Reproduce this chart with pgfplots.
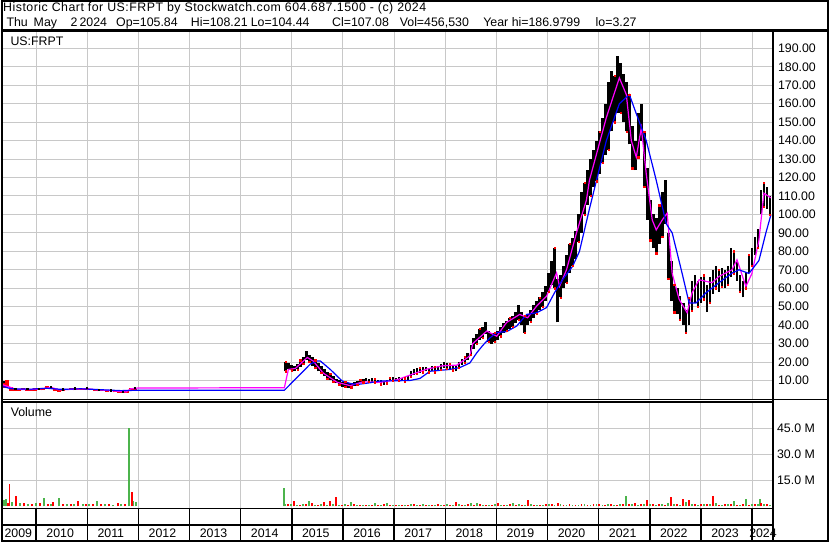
\documentclass[border=0pt]{standalone}
\usepackage{pgfplots}
\pgfplotsset{compat=1.18}
\usepackage{pgfplotstable}
\usepackage{fontspec}
\setmainfont{Liberation Sans}
\definecolor{gridc}{RGB}{200,200,200}
\definecolor{volg}{RGB}{76,180,76}
\definecolor{volr}{RGB}{255,0,0}
\definecolor{maga}{RGB}{255,0,255}
\definecolor{mablue}{RGB}{0,0,255}
\newcommand\hdr{\fontsize{9.3pt}{11pt}\selectfont}

\pgfplotstableread{
x lo hi
2009.357 6.0 9.5
2009.435 6.5 10.0
2009.513 4.5 6.5
2009.591 4.3 5.5
2009.669 4.4 5.4
2009.747 4.6 5.8
2009.825 4.5 5.5
2009.903 4.4 5.6
2009.981 4.5 5.8
2010.058 4.6 5.6
2010.136 4.7 6.0
2010.214 5.5 7.0
2010.292 5.2 6.5
2010.370 4.2 5.3
2010.448 4.0 5.0
2010.526 4.3 5.2
2010.604 4.6 5.6
2010.682 4.8 6.0
2010.760 4.7 5.8
2010.838 4.9 6.0
2010.916 5.0 6.2
2010.994 4.9 6.0
2011.072 4.6 5.6
2011.150 4.2 5.0
2011.228 4.1 4.8
2011.306 4.2 4.9
2011.384 4.0 4.8
2011.462 4.1 4.7
2011.540 3.6 4.4
2011.618 3.3 4.1
2011.696 3.2 4.0
2011.774 3.3 4.2
2011.852 4.6 6.0
2011.930 5.0 6.2
}\earlytab

\pgfplotstableread{
x lo hi
2014.874 15 20
2014.932 16 19.5
2014.991 15.5 18.5
2015.049 15 18
2015.108 16 19
2015.166 17.5 21
2015.225 19 23
2015.283 21 26
2015.342 20 24
2015.400 18 22.5
2015.459 17 21
2015.517 15 19.5
2015.576 14 18
2015.634 12.5 16
2015.693 11 14.5
2015.751 10.5 13.5
2015.810 9.5 12.5
2015.868 8.5 11
2015.927 7.5 10
2015.985 6.5 9
2016.044 6.8 9.2
2016.102 6.1 8.5
2016.161 6.3 8.4
2016.219 7 9
2016.278 7.5 9.5
2016.336 8.5 10.5
2016.395 9 11
2016.453 9.5 11.2
2016.511 9.3 11
2016.570 9.4 11.3
2016.628 9 10.8
2016.687 8.5 10.3
2016.745 8 10
2016.804 7.8 9.8
2016.862 8.5 10.5
2016.921 9.5 11.5
2016.979 9.7 11.8
2017.038 9.5 11.5
2017.096 9.8 12
2017.155 9.5 11.5
2017.213 9.3 11.2
2017.272 10.5 12.5
2017.330 12 15
2017.389 13 16
2017.447 13.5 16.5
2017.506 14 17
2017.564 14.5 17.2
2017.623 15 17.5
2017.681 14.5 17
2017.740 15 18
2017.798 14.5 17.5
2017.857 15 18
2017.915 16 19
2017.973 17 20
2018.032 16.5 19.5
2018.090 16 19
2018.149 15.5 18.5
2018.207 15 18
2018.266 17 20
2018.324 18.5 21.5
2018.383 19.5 23
2018.441 21 25
2018.500 24 29
2018.558 27 33
2018.617 30 35
2018.675 32 38
2018.734 33 39
2018.792 35 41.5
2018.851 31 37
2018.909 30 35.5
2018.968 31 36
2019.026 32 37
2019.085 34 39
2019.143 36 41
2019.202 37 42.5
2019.260 38 44
2019.319 39 45
2019.377 41 47
2019.435 43 51
2019.494 40 47
2019.552 36 45
2019.611 40 46
2019.669 42 48
2019.728 44 51
2019.786 46 53
2019.845 48 55
2019.903 50 58
2019.962 53 61
2020.020 58 68
2020.079 62 75
2020.137 60 82
2020.196 41.5 65
2020.254 55 67
2020.313 60 72
2020.371 63 78
2020.430 68 84
2020.488 72 87
2020.547 76 91
2020.605 85 100
2020.664 90 112
2020.722 100 117
2020.781 105 124
2020.839 110 130
2020.897 115 135
2020.956 118 140
2021.014 122 145
2021.073 128 152
2021.131 132 160
2021.190 135 172
2021.248 145 178
2021.307 150 175
2021.365 155 186
2021.424 155 182
2021.482 150 176
2021.541 145 172
2021.599 138 165
2021.658 125 148
2021.716 124 140
2021.775 131 155
2021.833 140 160
2021.892 115 145
2021.950 97 125
2022.009 86 108
2022.067 82 100
2022.126 79 98
2022.184 84 105
2022.243 88 112
2022.301 95 118.5
2022.359 65 90
2022.418 53 75
2022.476 47 62
2022.535 46 60
2022.593 43 56
2022.652 40 52
2022.710 36 48
2022.769 40 55
2022.827 48 64
2022.886 52 67
2022.944 50 64
2023.003 52 66
2023.061 54 67
2023.120 47 62
2023.178 52 66
2023.237 57 70
2023.295 60 72
2023.354 58 70
2023.412 61 71
2023.471 60 70
2023.529 62 72
2023.588 66 82
2023.646 68 80
2023.705 64 74
2023.763 58 67
2023.821 55 64
2023.880 60 69
2023.938 68 78
2023.997 72 82
2024.055 78 88
2024.114 82 92
2024.172 100 113
2024.231 104 117
2024.289 103 115
2024.348 100 110
}\latetab

\pgfplotstableread{
x y
2009.318 8
2009.474 6.5
2009.610 5.2
2009.903 5.1
2010.195 5.8
2010.293 6.2
2010.449 5.0
2010.682 5.2
2010.975 5.6
2011.170 5.0
2011.462 4.5
2011.755 3.8
2011.852 5.5
2011.989 5.9
2014.854 6.1
2014.932 16
2015.068 16.5
2015.302 22.5
2015.419 20.5
2015.614 14
2015.887 9
2016.141 7.2
2016.394 9.3
2016.725 9.0
2017.057 10.4
2017.369 13.5
2017.642 16.2
2017.954 18
2018.226 18.3
2018.480 23.3
2018.538 30
2018.811 36.8
2019.006 34
2019.201 41.5
2019.454 45.8
2019.610 44
2019.786 50.3
2019.981 55.7
2020.176 68.3
2020.234 61
2020.371 70
2020.566 90
2020.760 107.8
2020.819 118.5
2021.150 152.5
2021.404 174
2021.540 165
2021.638 140
2021.735 131
2021.833 147
2021.930 122
2022.047 97
2022.125 91.6
2022.242 97
2022.339 100.7
2022.437 68
2022.573 54
2022.729 46.7
2022.827 57.6
2022.963 64.6
2023.217 63
2023.353 66.4
2023.607 70
2023.704 75.4
2023.879 61
2023.996 68
2024.133 86
2024.231 111.5
2024.367 109
}\magtab

\pgfplotstableread{
x y
2009.318 7
2009.513 5.5
2009.903 5.3
2010.195 5.8
2010.488 5.2
2010.877 5.5
2011.267 5.0
2011.657 4.5
2011.989 4.7
2014.854 4.7
2015.361 18.9
2015.497 20.6
2015.556 20.6
2015.751 16
2015.985 9.7
2016.141 8.4
2016.277 7.8
2016.531 8.8
2016.725 9.7
2017.310 10
2017.505 11.1
2017.700 15
2018.090 16
2018.285 17
2018.480 19.5
2018.616 25
2018.733 29
2018.870 33
2019.006 36
2019.201 36.5
2019.396 39.5
2019.591 45.8
2019.786 46.7
2019.981 49.5
2020.137 57.6
2020.293 64.6
2020.488 71.8
2020.624 80
2020.819 103
2021.150 140
2021.404 160
2021.599 165
2021.735 154.6
2021.930 140
2022.125 118.5
2022.320 95
2022.437 90
2022.632 68
2022.768 52
2022.905 52
2023.100 57.6
2023.353 63
2023.607 68.2
2023.743 70
2023.938 68
2024.133 75
2024.269 90
2024.367 99.7
}\bluetab

\pgfplotsset{
  panel/.style={
    scale only axis, anchor=north west,
    width=579.75pt,
    xmin=2009.318, xmax=2024.387,
    axis line style={draw=none}, tick style={draw=none}, major tick length=0pt,
    grid=major, grid style={gridc, line width=0.75pt},
    xtick={2010,2011,2012,2013,2014,2015,2016,2017,2018,2019,2020,2021,2022,2023,2024},
    xticklabels={},
    yticklabel pos=right,
    /pgf/number format/assume math mode=true,
    tick label style={font=\hdr},
  }
}

\begin{document}
\begin{tikzpicture}
\begin{scope}[x=0.75pt,y=-0.75pt]
\useasboundingbox (0,0) rectangle (830,543);
\fill[white] (0,0) rectangle (830,543);
\end{scope}

% price panel
\begin{axis}[panel, at={(0pt,-24pt)}, height=276pt,
  ymin=-0.05, ymax=198.8,
  ytick={10,20,30,40,50,60,70,80,90,100,110,120,130,140,150,160,170,180,190},
  yticklabels={10.00,20.00,30.00,40.00,50.00,60.00,70.00,80.00,90.00,100.00,110.00,120.00,130.00,140.00,150.00,160.00,170.00,180.00,190.00},
  yticklabel style={anchor=west, inner sep=0pt, xshift=4.4pt},
]
\addplot[mark=none, draw=none, forget plot,
  error bars/.cd, y dir=plus, y explicit, error mark=none,
  error bar style={draw=red, line width=3pt, solid}]
  table[x=x, y=lo, y error expr={\thisrow{hi}-\thisrow{lo}}] {\earlytab};
\addplot[mark=none, draw=none, forget plot,
  error bars/.cd, y dir=plus, y explicit, error mark=none,
  error bar style={draw=black, line width=2.0pt, solid}]
  table[x=x, y=lo, y error expr={\thisrow{hi}-\thisrow{lo}}] {\latetab};
\addplot[only marks, mark=square*, mark size=0.45pt, color=red, each nth point=2, filter discard warning=false]
  table[x=x, y=lo] {\latetab};
\addplot[only marks, mark=square*, mark size=0.45pt, color=red, each nth point=5, filter discard warning=false]
  table[x=x, y=hi] {\latetab};
\addplot[only marks, mark=square*, mark size=0.45pt, color=black, each nth point=3, filter discard warning=false]
  table[x=x, y=hi] {\earlytab};
\addplot[maga, line width=0.9pt, mark=none] table[x=x, y=y] {\magtab};
\addplot[mablue, line width=0.9pt, mark=none] table[x=x, y=y] {\bluetab};
\end{axis}

% volume panel
\begin{axis}[panel, at={(0pt,-302.25pt)}, height=79.5pt,
  ymin=-0.8, ymax=60,
  ytick={15,30,45},
  yticklabels={15.0 M,30.0 M,45.0 M},
  yticklabel style={anchor=west, inner sep=0pt, xshift=3.7pt},
]
\addplot[ycomb, draw=volg, line width=1.4pt, mark=none] coordinates {
(2009.376,3.8) (2009.415,4.0) (2009.532,2.5) (2009.688,2.0) (2009.844,1.6) (2010.000,1.8)
(2010.156,4.5) (2010.293,1.5) (2010.449,4.5) (2010.605,1.2) (2010.741,1.6) (2010.916,1.4)
(2011.033,1.2) (2011.189,3.2) (2011.345,1.3) (2011.501,1.0) (2011.657,1.3) (2011.819,45)
(2011.905,3.3) (2011.950,2.3)
(2014.841,10.4)
(2014.874,1.5) (2014.991,1.2) (2015.108,0.9) (2015.225,1.3) (2015.342,2.9) (2015.459,1.0)
(2015.576,1.4) (2015.693,0.8) (2015.810,1.1) (2015.927,0.9) (2016.044,1.2) (2016.161,2.2)
(2016.278,0.8) (2016.395,1.0) (2016.511,0.7) (2016.628,1.8) (2016.745,0.9) (2016.862,1.8)
(2016.979,0.8) (2017.096,1.0) (2017.213,0.7) (2017.330,1.1) (2017.447,0.9) (2017.564,1.2)
(2017.681,0.8) (2017.798,1.0) (2017.915,0.7) (2018.032,1.1) (2018.149,0.9) (2018.266,1.3)
(2018.383,1.0) (2018.500,1.8) (2018.617,1.8) (2018.734,1.0) (2018.851,0.8) (2018.968,1.2)
(2019.085,0.9) (2019.202,1.0) (2019.319,1.8) (2019.435,1.1) (2019.552,0.9) (2019.669,1.2)
(2019.786,1.0) (2019.903,0.8) (2020.020,1.1) (2020.137,0.9) (2020.254,1.3) (2020.371,0.8)
(2020.488,1.0) (2020.605,0.9) (2020.722,1.1) (2020.839,0.8) (2020.956,1.2) (2021.073,1.0)
(2021.190,1.4) (2021.307,1.0) (2021.424,1.3) (2021.541,5.7) (2021.658,1.2) (2021.775,0.9)
(2021.892,1.1) (2022.009,1.3) (2022.126,1.0) (2022.243,1.2) (2022.359,1.8) (2022.476,1.1)
(2022.593,1.0) (2022.710,2.2) (2022.827,1.2) (2022.944,1.0) (2023.061,1.3) (2023.178,1.1)
(2023.295,1.9) (2023.412,1.0) (2023.529,1.2) (2023.646,2.9) (2023.763,1.0) (2023.880,4.2)
(2023.997,1.1) (2024.114,1.3) (2024.153,4.2) (2024.231,1.2) (2024.348,1.0)
};
\addplot[ycomb, draw=volr, line width=1.4pt, mark=none] coordinates {
(2009.454,2.0) (2009.480,13) (2009.610,6.0) (2009.766,1.8) (2009.922,1.5) (2010.078,1.7)
(2010.234,1.3) (2010.332,2.7) (2010.527,1.4) (2010.682,1.2) (2010.819,3.0) (2010.975,1.3)
(2011.111,1.5) (2011.267,1.2) (2011.423,1.4) (2011.599,2.0) (2011.735,1.1) (2011.866,8.5)
(2014.932,1.3) (2015.049,3.2) (2015.166,1.0) (2015.283,1.2) (2015.400,1.8) (2015.517,1.0)
(2015.634,2.2) (2015.751,3.2) (2015.868,5.1) (2015.985,1.0) (2016.102,0.9) (2016.219,1.1)
(2016.336,0.8) (2016.453,1.0) (2016.570,0.7) (2016.687,0.9) (2016.804,1.1) (2016.921,0.8)
(2017.038,1.0) (2017.155,0.9) (2017.272,0.7) (2017.389,1.2) (2017.506,0.8) (2017.623,1.0)
(2017.740,0.9) (2017.857,1.1) (2017.973,0.8) (2018.090,1.0) (2018.207,2.3) (2018.324,0.9)
(2018.441,1.1) (2018.558,1.0) (2018.675,1.2) (2018.792,0.9) (2018.909,1.0) (2019.026,1.8)
(2019.143,0.8) (2019.260,1.1) (2019.377,0.9) (2019.494,1.0) (2019.611,3.4) (2019.728,1.0)
(2019.845,0.9) (2019.962,1.1) (2020.079,1.2) (2020.196,1.9) (2020.313,1.0) (2020.430,1.3)
(2020.547,0.9) (2020.664,1.1) (2020.781,1.0) (2020.897,1.5) (2021.014,1.2) (2021.131,0.9)
(2021.248,1.1) (2021.365,1.0) (2021.482,1.2) (2021.599,1.3) (2021.716,1.9) (2021.833,1.1)
(2021.950,3.6) (2022.067,1.2) (2022.184,1.4) (2022.301,1.0) (2022.418,5.1) (2022.535,1.2)
(2022.652,4.2) (2022.769,3.8) (2022.886,1.1) (2023.003,1.4) (2023.120,1.2) (2023.237,5.7)
(2023.354,1.0) (2023.471,1.3) (2023.588,1.1) (2023.705,1.0) (2023.821,1.2) (2023.938,1.0)
(2024.055,1.1) (2024.172,1.8) (2024.289,1.2)
};
\end{axis}

\begin{scope}[x=0.75pt,y=-0.75pt]
% frame lines
\draw[black, line width=1.5pt] (0.75,0.75) rectangle (829.25,542.25);
\draw[black, line width=1.9pt] (0,30.5) -- (830,30.5);
\draw[black, line width=1.5pt] (774.3,30.5) -- (774.3,543);
\draw[black, line width=0.9pt] (0,400.6) -- (830,400.6);
\draw[black, line width=0.9pt] (0,403.0) -- (774.3,403.0);
\draw[black, line width=1.5pt] (0,509.8) -- (774.3,509.8);
\draw[black, line width=1.5pt] (0,526.6) -- (774.3,526.6);
\foreach \xx in {35,86.3,137.6,188.9,240.2,291.5,342.8,394.1,445.4,496.7,548,599.3,650.6,701.9,753.2}
  \draw[black, line width=1.1pt] (\xx,509.8) -- (\xx,542.5);
% header text, line 1
\node[anchor=base west, inner sep=0pt, font=\hdr] at (1.7,11.3) {\addfontfeature{LetterSpace=4.0}Historic Chart for US:FRPT by Stockwatch.com 604.687.1500 - (c) 2024};
% header text, line 2
\node[anchor=base west, inner sep=0pt, font=\hdr] at (5,26.7) {Thu};
\node[anchor=base west, inner sep=0pt, font=\hdr] at (32.3,26.7) {May};
\node[anchor=base west, inner sep=0pt, font=\hdr] at (69.3,26.7) {2};
\node[anchor=base west, inner sep=0pt, font=\hdr] at (78.3,26.7) {2024};
\node[anchor=base west, inner sep=0pt, font=\hdr] at (115,26.7) {Op=105.84};
\node[anchor=base west, inner sep=0pt, font=\hdr] at (190,26.7) {Hi=108.21};
\node[anchor=base west, inner sep=0pt, font=\hdr] at (250,26.7) {Lo=104.44};
\node[anchor=base west, inner sep=0pt, font=\hdr] at (331.7,26.7) {Cl=107.08};
\node[anchor=base west, inner sep=0pt, font=\hdr] at (399.5,26.7) {Vol=456,530};
\node[anchor=base west, inner sep=0pt, font=\hdr] at (483.3,26.7) {Year hi=186.9799};
\node[anchor=base west, inner sep=0pt, font=\hdr] at (596,26.7) {lo=3.27};
% panel titles
\node[anchor=base west, inner sep=0pt, font=\hdr] at (9,45.3) {US:FRPT};
\node[anchor=base west, inner sep=0pt, font=\hdr] at (9.3,417.3) {Volume};
% year labels
\foreach \xx/\yy in {3/2009,45/2010,96.3/2011,147.6/2012,198.9/2013,250.2/2014,301.5/2015,352.8/2016,404.1/2017,455.4/2018,506.7/2019,558/2020,609.3/2021,660.6/2022,711.9/2023,750/2024}
  \node[anchor=base west, inner sep=0pt, font=\hdr] at (\xx,538.5) {\yy};
\end{scope}
\end{tikzpicture}
\end{document}
